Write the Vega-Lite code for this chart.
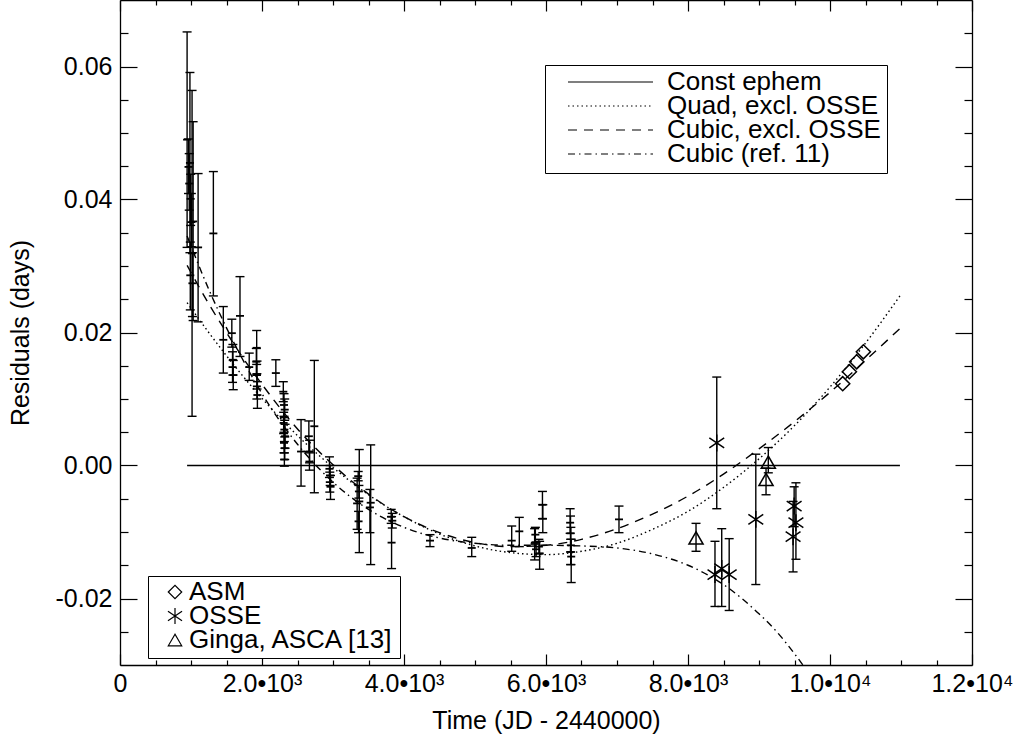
{
  "$schema": "https://vega.github.io/schema/vega-lite/v6.json",
  "autosize": {"type": "none"},
  "padding": {"left": 120, "top": 0, "right": 49, "bottom": 75},
  "width": 852,
  "height": 665,
  "background": "white",
  "config": {
    "font": "Liberation Sans",
    "view": {"stroke": null},
    "axis": {"domainColor": "black", "domainWidth": 1.3, "tickColor": "black", "tickWidth": 1.2, "labelColor": "black", "titleColor": "black", "grid": false, "labelOverlap": false, "labelFlush": false, "labelFont": "Liberation Sans", "titleFont": "Liberation Sans", "titleFontWeight": "normal"}
  },
  "datasets": {
    "curves": [
      {"x": 945, "y": 0, "fit": "Const ephem"},
      {"x": 10985, "y": 0, "fit": "Const ephem"},
      {"x": 945, "y": 0.0245, "fit": "Quad, excl. OSSE"},
      {"x": 1250, "y": 0.0200, "fit": "Quad, excl. OSSE"},
      {"x": 1500, "y": 0.0165, "fit": "Quad, excl. OSSE"},
      {"x": 1750, "y": 0.0132, "fit": "Quad, excl. OSSE"},
      {"x": 2000, "y": 0.0101, "fit": "Quad, excl. OSSE"},
      {"x": 2500, "y": 0.0045, "fit": "Quad, excl. OSSE"},
      {"x": 3000, "y": -0.0003, "fit": "Quad, excl. OSSE"},
      {"x": 3500, "y": -0.0044, "fit": "Quad, excl. OSSE"},
      {"x": 4000, "y": -0.0077, "fit": "Quad, excl. OSSE"},
      {"x": 4500, "y": -0.0103, "fit": "Quad, excl. OSSE"},
      {"x": 5000, "y": -0.0121, "fit": "Quad, excl. OSSE"},
      {"x": 5500, "y": -0.0131, "fit": "Quad, excl. OSSE"},
      {"x": 6000, "y": -0.0134, "fit": "Quad, excl. OSSE"},
      {"x": 6500, "y": -0.0129, "fit": "Quad, excl. OSSE"},
      {"x": 7000, "y": -0.0117, "fit": "Quad, excl. OSSE"},
      {"x": 7500, "y": -0.0096, "fit": "Quad, excl. OSSE"},
      {"x": 8000, "y": -0.0069, "fit": "Quad, excl. OSSE"},
      {"x": 8500, "y": -0.0033, "fit": "Quad, excl. OSSE"},
      {"x": 9000, "y": 0.0010, "fit": "Quad, excl. OSSE"},
      {"x": 9500, "y": 0.0060, "fit": "Quad, excl. OSSE"},
      {"x": 10000, "y": 0.0118, "fit": "Quad, excl. OSSE"},
      {"x": 10500, "y": 0.0184, "fit": "Quad, excl. OSSE"},
      {"x": 10985, "y": 0.0255, "fit": "Quad, excl. OSSE"},
      {"x": 945, "y": 0.0301, "fit": "Cubic, excl. OSSE"},
      {"x": 1250, "y": 0.0243, "fit": "Cubic, excl. OSSE"},
      {"x": 1500, "y": 0.0200, "fit": "Cubic, excl. OSSE"},
      {"x": 1750, "y": 0.0159, "fit": "Cubic, excl. OSSE"},
      {"x": 2000, "y": 0.0122, "fit": "Cubic, excl. OSSE"},
      {"x": 2500, "y": 0.0055, "fit": "Cubic, excl. OSSE"},
      {"x": 3000, "y": 0.0001, "fit": "Cubic, excl. OSSE"},
      {"x": 3500, "y": -0.0043, "fit": "Cubic, excl. OSSE"},
      {"x": 4000, "y": -0.0077, "fit": "Cubic, excl. OSSE"},
      {"x": 4500, "y": -0.0101, "fit": "Cubic, excl. OSSE"},
      {"x": 5000, "y": -0.0116, "fit": "Cubic, excl. OSSE"},
      {"x": 5500, "y": -0.0122, "fit": "Cubic, excl. OSSE"},
      {"x": 6000, "y": -0.0120, "fit": "Cubic, excl. OSSE"},
      {"x": 6500, "y": -0.0111, "fit": "Cubic, excl. OSSE"},
      {"x": 7000, "y": -0.0095, "fit": "Cubic, excl. OSSE"},
      {"x": 7500, "y": -0.0073, "fit": "Cubic, excl. OSSE"},
      {"x": 8000, "y": -0.0046, "fit": "Cubic, excl. OSSE"},
      {"x": 8500, "y": -0.0013, "fit": "Cubic, excl. OSSE"},
      {"x": 9000, "y": 0.0025, "fit": "Cubic, excl. OSSE"},
      {"x": 9500, "y": 0.0066, "fit": "Cubic, excl. OSSE"},
      {"x": 10000, "y": 0.0110, "fit": "Cubic, excl. OSSE"},
      {"x": 10500, "y": 0.0158, "fit": "Cubic, excl. OSSE"},
      {"x": 10985, "y": 0.0206, "fit": "Cubic, excl. OSSE"},
      {"x": 945, "y": 0.0345, "fit": "Cubic (ref. 11)"},
      {"x": 1250, "y": 0.0265, "fit": "Cubic (ref. 11)"},
      {"x": 1500, "y": 0.0207, "fit": "Cubic (ref. 11)"},
      {"x": 1750, "y": 0.0155, "fit": "Cubic (ref. 11)"},
      {"x": 2000, "y": 0.0108, "fit": "Cubic (ref. 11)"},
      {"x": 2500, "y": 0.0032, "fit": "Cubic (ref. 11)"},
      {"x": 3000, "y": -0.0025, "fit": "Cubic (ref. 11)"},
      {"x": 3500, "y": -0.0066, "fit": "Cubic (ref. 11)"},
      {"x": 4000, "y": -0.0093, "fit": "Cubic (ref. 11)"},
      {"x": 4500, "y": -0.0109, "fit": "Cubic (ref. 11)"},
      {"x": 5000, "y": -0.0117, "fit": "Cubic (ref. 11)"},
      {"x": 5500, "y": -0.0120, "fit": "Cubic (ref. 11)"},
      {"x": 6000, "y": -0.0120, "fit": "Cubic (ref. 11)"},
      {"x": 6500, "y": -0.0121, "fit": "Cubic (ref. 11)"},
      {"x": 7000, "y": -0.0124, "fit": "Cubic (ref. 11)"},
      {"x": 7500, "y": -0.0133, "fit": "Cubic (ref. 11)"},
      {"x": 8000, "y": -0.0150, "fit": "Cubic (ref. 11)"},
      {"x": 8500, "y": -0.0179, "fit": "Cubic (ref. 11)"},
      {"x": 9000, "y": -0.0223, "fit": "Cubic (ref. 11)"},
      {"x": 9250, "y": -0.0250, "fit": "Cubic (ref. 11)"},
      {"x": 9500, "y": -0.0283, "fit": "Cubic (ref. 11)"},
      {"x": 9700, "y": -0.0312, "fit": "Cubic (ref. 11)"}
    ],
    "pts": [
      {"x": 945, "y": 0.0490, "lo": 0.0328, "hi": 0.0652, "k": "pt"},
      {"x": 985, "y": 0.0455, "lo": 0.0320, "hi": 0.0591, "k": "pt"},
      {"x": 1015, "y": 0.0319, "lo": 0.0074, "hi": 0.0564, "k": "pt"},
      {"x": 1030, "y": 0.0367, "lo": 0.0218, "hi": 0.0517, "k": "pt"},
      {"x": 965, "y": 0.0449, "lo": 0.0409, "hi": 0.0491, "k": "pt"},
      {"x": 975, "y": 0.0424, "lo": 0.0384, "hi": 0.0469, "k": "pt"},
      {"x": 995, "y": 0.0401, "lo": 0.0361, "hi": 0.0438, "k": "pt"},
      {"x": 1005, "y": 0.0366, "lo": 0.0329, "hi": 0.0409, "k": "pt"},
      {"x": 990, "y": 0.0286, "lo": 0.0234, "hi": 0.0336, "k": "pt"},
      {"x": 1020, "y": 0.0274, "lo": 0.0224, "hi": 0.0320, "k": "pt"},
      {"x": 1100, "y": 0.0328, "lo": 0.0216, "hi": 0.0439, "k": "pt"},
      {"x": 1315, "y": 0.0349, "lo": 0.0255, "hi": 0.0442, "k": "pt"},
      {"x": 1455, "y": 0.0189, "lo": 0.0139, "hi": 0.0239, "k": "pt"},
      {"x": 1575, "y": 0.0199, "lo": 0.0178, "hi": 0.0220, "k": "pt"},
      {"x": 1590, "y": 0.0159, "lo": 0.0136, "hi": 0.0182, "k": "pt"},
      {"x": 1585, "y": 0.0148, "lo": 0.0125, "hi": 0.0171, "k": "pt"},
      {"x": 1595, "y": 0.0136, "lo": 0.0114, "hi": 0.0158, "k": "pt"},
      {"x": 1690, "y": 0.0225, "lo": 0.0164, "hi": 0.0284, "k": "pt"},
      {"x": 1820, "y": 0.0148, "lo": 0.0128, "hi": 0.0169, "k": "pt"},
      {"x": 1925, "y": 0.0177, "lo": 0.0152, "hi": 0.0203, "k": "pt"},
      {"x": 1920, "y": 0.0156, "lo": 0.0136, "hi": 0.0176, "k": "pt"},
      {"x": 1930, "y": 0.0136, "lo": 0.0115, "hi": 0.0157, "k": "pt"},
      {"x": 1928, "y": 0.0119, "lo": 0.0100, "hi": 0.0138, "k": "pt"},
      {"x": 1935, "y": 0.0106, "lo": 0.0086, "hi": 0.0126, "k": "pt"},
      {"x": 2195, "y": 0.0139, "lo": 0.0119, "hi": 0.0159, "k": "pt"},
      {"x": 2300, "y": 0.0111, "lo": 0.0096, "hi": 0.0126, "k": "pt"},
      {"x": 2310, "y": 0.0091, "lo": 0.0074, "hi": 0.0108, "k": "pt"},
      {"x": 2320, "y": 0.0084, "lo": 0.0068, "hi": 0.0100, "k": "pt"},
      {"x": 2305, "y": 0.0064, "lo": 0.0048, "hi": 0.0080, "k": "pt"},
      {"x": 2315, "y": 0.0054, "lo": 0.0036, "hi": 0.0072, "k": "pt"},
      {"x": 2325, "y": 0.0044, "lo": 0.0026, "hi": 0.0062, "k": "pt"},
      {"x": 2310, "y": 0.0034, "lo": 0.0019, "hi": 0.0050, "k": "pt"},
      {"x": 2320, "y": 0.0026, "lo": 0.0009, "hi": 0.0043, "k": "pt"},
      {"x": 2315, "y": 0.0009, "lo": -0.0001, "hi": 0.0019, "k": "pt"},
      {"x": 2550, "y": 0.0021, "lo": -0.0031, "hi": 0.0069, "k": "pt"},
      {"x": 2660, "y": 0.0044, "lo": 0.0021, "hi": 0.0067, "k": "pt"},
      {"x": 2670, "y": 0.0021, "lo": 0.0004, "hi": 0.0038, "k": "pt"},
      {"x": 2668, "y": 0.0006, "lo": -0.0007, "hi": 0.0019, "k": "pt"},
      {"x": 2737, "y": 0.0059, "lo": -0.0041, "hi": 0.0158, "k": "pt"},
      {"x": 2950, "y": -0.0005, "lo": -0.0018, "hi": 0.0013, "k": "pt"},
      {"x": 2960, "y": -0.0015, "lo": -0.0030, "hi": 0.0000, "k": "pt"},
      {"x": 2955, "y": -0.0025, "lo": -0.0040, "hi": -0.0010, "k": "pt"},
      {"x": 2965, "y": -0.0032, "lo": -0.0051, "hi": -0.0015, "k": "pt"},
      {"x": 3370, "y": -0.0054, "lo": -0.0131, "hi": 0.0024, "k": "pt"},
      {"x": 3340, "y": -0.0057, "lo": -0.0096, "hi": -0.0019, "k": "pt"},
      {"x": 3355, "y": -0.0016, "lo": -0.0023, "hi": -0.0009, "k": "pt"},
      {"x": 3365, "y": -0.0039, "lo": -0.0049, "hi": -0.0030, "k": "pt"},
      {"x": 3360, "y": -0.0084, "lo": -0.0101, "hi": -0.0069, "k": "pt"},
      {"x": 3531, "y": -0.0056, "lo": -0.0149, "hi": 0.0031, "k": "pt"},
      {"x": 3520, "y": -0.0063, "lo": -0.0101, "hi": -0.0036, "k": "pt"},
      {"x": 3820, "y": -0.0077, "lo": -0.0087, "hi": -0.0066, "k": "pt"},
      {"x": 3835, "y": -0.0083, "lo": -0.0094, "hi": -0.0072, "k": "pt"},
      {"x": 3825, "y": -0.0116, "lo": -0.0155, "hi": -0.0077, "k": "pt"},
      {"x": 4366, "y": -0.0113, "lo": -0.0122, "hi": -0.0104, "k": "pt"},
      {"x": 4954, "y": -0.0124, "lo": -0.0137, "hi": -0.0108, "k": "pt"},
      {"x": 5517, "y": -0.0113, "lo": -0.0129, "hi": -0.0091, "k": "pt"},
      {"x": 5624, "y": -0.0099, "lo": -0.0122, "hi": -0.0078, "k": "pt"},
      {"x": 5840, "y": -0.0118, "lo": -0.0142, "hi": -0.0095, "k": "pt"},
      {"x": 5850, "y": -0.0104, "lo": -0.0116, "hi": -0.0093, "k": "pt"},
      {"x": 5860, "y": -0.0126, "lo": -0.0137, "hi": -0.0115, "k": "pt"},
      {"x": 5910, "y": -0.0132, "lo": -0.0156, "hi": -0.0114, "k": "pt"},
      {"x": 5900, "y": -0.0122, "lo": -0.0133, "hi": -0.0111, "k": "pt"},
      {"x": 5950, "y": -0.0059, "lo": -0.0080, "hi": -0.0039, "k": "pt"},
      {"x": 5955, "y": -0.0080, "lo": -0.0101, "hi": -0.0059, "k": "pt"},
      {"x": 6345, "y": -0.0102, "lo": -0.0130, "hi": -0.0076, "k": "pt"},
      {"x": 6350, "y": -0.0120, "lo": -0.0149, "hi": -0.0093, "k": "pt"},
      {"x": 6355, "y": -0.0137, "lo": -0.0176, "hi": -0.0111, "k": "pt"},
      {"x": 6348, "y": -0.0130, "lo": -0.0149, "hi": -0.0111, "k": "pt"},
      {"x": 6340, "y": -0.0086, "lo": -0.0102, "hi": -0.0065, "k": "pt"},
      {"x": 7028, "y": -0.0081, "lo": -0.0101, "hi": -0.0061, "k": "pt"},
      {"x": 8405, "y": 0.0034, "lo": -0.0065, "hi": 0.0133, "k": "OSSE"},
      {"x": 8380, "y": -0.0164, "lo": -0.0212, "hi": -0.0114, "k": "OSSE"},
      {"x": 8475, "y": -0.0155, "lo": -0.0212, "hi": -0.0095, "k": "OSSE"},
      {"x": 8580, "y": -0.0164, "lo": -0.0218, "hi": -0.0110, "k": "OSSE"},
      {"x": 8955, "y": -0.0081, "lo": -0.0179, "hi": 0.0017, "k": "OSSE"},
      {"x": 9495, "y": -0.0061, "lo": -0.0092, "hi": -0.0032, "k": "OSSE"},
      {"x": 9520, "y": -0.0086, "lo": -0.0141, "hi": -0.0026, "k": "OSSE"},
      {"x": 9480, "y": -0.0107, "lo": -0.0160, "hi": -0.0054, "k": "OSSE"},
      {"x": 8113, "y": -0.0109, "lo": -0.0129, "hi": -0.0087, "k": "Ginga, ASCA [13]"},
      {"x": 9131, "y": 0.0005, "lo": -0.0011, "hi": 0.0027, "k": "Ginga, ASCA [13]"},
      {"x": 9099, "y": -0.0021, "lo": -0.0044, "hi": -0.0004, "k": "Ginga, ASCA [13]"},
      {"x": 10179, "y": 0.0123, "k": "ASM"},
      {"x": 10273, "y": 0.0141, "k": "ASM"},
      {"x": 10376, "y": 0.0156, "k": "ASM"},
      {"x": 10470, "y": 0.0171, "k": "ASM"}
    ]
  },
  "resolve": {"axis": {"x": "independent", "y": "independent"}},
  "layer": [
    {
      "data": {"name": "curves"},
      "mark": {"type": "line", "clip": true, "color": "black", "strokeWidth": 1.4, "interpolate": "monotone"},
      "encoding": {
        "x": {"field": "x", "type": "quantitative",
          "scale": {"domain": [0, 12000], "nice": false, "zero": false},
          "axis": {"orient": "bottom", "values": [0,500,1000,1500,2000,2500,3000,3500,4000,4500,5000,5500,6000,6500,7000,7500,8000,8500,9000,9500,10000,10500,11000,11500,12000],
            "tickSize": {"expr": "datum.value % 2000 === 0 ? -11 : -5"},
            "labelExpr": "datum.value === 0 ? '0' : (datum.value % 2000 === 0 ? (datum.value < 10000 ? format(datum.value/1000, '.1f') + '•10³' : format(datum.value/10000, '.1f') + '•10⁴') : '')",
            "labelFontSize": 25, "labelPadding": 17,
            "title": "Time (JD - 2440000)", "titleFontSize": 25, "titlePadding": 6}},
        "y": {"field": "y", "type": "quantitative",
          "scale": {"domain": [-0.03, 0.07], "nice": false, "zero": false},
          "axis": {"orient": "left", "values": [-0.025,-0.02,-0.015,-0.01,-0.005,0,0.005,0.01,0.015,0.02,0.025,0.03,0.035,0.04,0.045,0.05,0.055,0.06,0.065],
            "tickSize": {"expr": "abs(round(datum.value*1000)) % 20 === 0 ? -17 : -8"},
            "labelExpr": "abs(round(datum.value*1000)) % 20 === 0 ? replace(format(datum.value, '.2f'), '−', '-') : ''",
            "labelFontSize": 25, "labelPadding": 25,
            "title": "Residuals (days)", "titleFontSize": 25, "titlePadding": 22}},
        "strokeDash": {"field": "fit", "type": "nominal",
          "scale": {"domain": ["Const ephem", "Quad, excl. OSSE", "Cubic, excl. OSSE", "Cubic (ref. 11)"],
                    "range": [[1, 0], [1.5, 3], [9, 7], [7, 4, 1.5, 4]]},
          "legend": {"orient": "none", "legendX": 425, "legendY": 65, "title": null,
            "strokeColor": "black", "fillColor": "white", "padding": 6,
            "symbolType": "stroke", "symbolSize": 7225, "symbolStrokeWidth": 1.2, "symbolStrokeColor": "black",
            "clipHeight": 22, "rowPadding": -6, "symbolOffset": 16, "labelOffset": 13,
            "labelFont": "Liberation Sans", "labelFontSize": 26, "labelColor": "black", "labelLimit": 400}}
      }
    },
    {
      "data": {"name": "pts"},
      "transform": [{"filter": "datum.lo != null"}],
      "mark": {"type": "rule", "color": "black", "strokeWidth": 1.4},
      "encoding": {
        "x": {"field": "x", "type": "quantitative", "axis": null},
        "y": {"field": "lo", "type": "quantitative", "axis": null},
        "y2": {"field": "hi"}
      }
    },
    {
      "data": {"name": "pts"},
      "transform": [{"filter": "datum.lo != null"}],
      "mark": {"type": "tick", "orient": "horizontal", "color": "black", "size": 9, "thickness": 1.4, "opacity": 1},
      "encoding": {
        "x": {"field": "x", "type": "quantitative", "axis": null},
        "y": {"field": "lo", "type": "quantitative", "axis": null}
      }
    },
    {
      "data": {"name": "pts"},
      "transform": [{"filter": "datum.lo != null"}],
      "mark": {"type": "tick", "orient": "horizontal", "color": "black", "size": 9, "thickness": 1.4, "opacity": 1},
      "encoding": {
        "x": {"field": "x", "type": "quantitative", "axis": null},
        "y": {"field": "hi", "type": "quantitative", "axis": null}
      }
    },
    {
      "data": {"name": "pts"},
      "transform": [{"filter": "datum.k === 'pt'"}],
      "mark": {"type": "tick", "orient": "horizontal", "color": "black", "size": 8, "thickness": 1.8, "opacity": 1},
      "encoding": {
        "x": {"field": "x", "type": "quantitative", "axis": null},
        "y": {"field": "y", "type": "quantitative", "axis": null}
      }
    },
    {
      "data": {"name": "pts"},
      "transform": [{"filter": "datum.k !== 'pt'"}],
      "mark": {"type": "point", "filled": false, "stroke": "black", "strokeWidth": 1.5, "size": 200, "opacity": 1},
      "encoding": {
        "x": {"field": "x", "type": "quantitative",
          "axis": {"orient": "top", "values": [0,500,1000,1500,2000,2500,3000,3500,4000,4500,5000,5500,6000,6500,7000,7500,8000,8500,9000,9500,10000,10500,11000,11500,12000],
            "tickSize": {"expr": "datum.value % 2000 === 0 ? -11 : -5"}, "labels": false, "title": null}},
        "y": {"field": "y", "type": "quantitative",
          "axis": {"orient": "right", "values": [-0.025,-0.02,-0.015,-0.01,-0.005,0,0.005,0.01,0.015,0.02,0.025,0.03,0.035,0.04,0.045,0.05,0.055,0.06,0.065],
            "tickSize": {"expr": "abs(round(datum.value*1000)) % 20 === 0 ? -17 : -8"}, "labels": false, "title": null}},
        "shape": {"field": "k", "type": "nominal",
          "scale": {"domain": ["ASM", "OSSE", "Ginga, ASCA [13]"],
                    "range": ["diamond", "M0,-1.2L0,1.2M-1.05,-0.7L1.05,0.7M-1.05,0.7L1.05,-0.7", "triangle-up"]},
          "legend": {"orient": "none", "legendX": 28, "legendY": 576, "title": null,
            "strokeColor": "black", "fillColor": "white", "padding": 5,
            "symbolSize": 180, "symbolStrokeWidth": 1.2, "symbolStrokeColor": "black", "symbolFillColor": "transparent",
            "clipHeight": 22, "rowPadding": -6, "symbolOffset": 9, "labelOffset": 1,
            "labelFont": "Liberation Sans", "labelFontSize": 26, "labelColor": "black", "labelLimit": 400}}
      }
    }
  ]
}
